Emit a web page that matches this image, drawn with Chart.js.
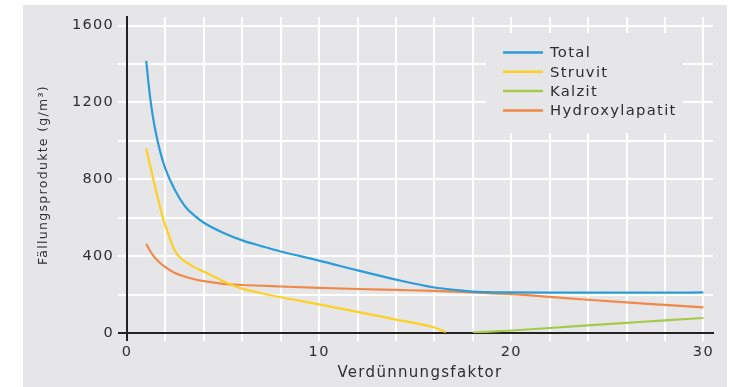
<!DOCTYPE html>
<html>
<head>
<meta charset="utf-8">
<script src="https://cdn.jsdelivr.net/npm/chart.js@4/dist/chart.umd.min.js"></script>
<style>
  html, body { margin: 0; padding: 0; background: #ffffff; }
  #wrap { position: relative; width: 734px; height: 387px; }
</style>
</head>
<body>
<div id="wrap"><canvas id="c" width="734" height="387"></canvas></div>
<script>
// ---- data ----
const seriesLabels = ['Total', 'Struvit', 'Kalzit', 'Hydroxylapatit'];
const seriesColors = ['#2b9cd8', '#fdd023', '#a6c94a', '#f0884a'];

const totalX = [1, 1.2, 1.35, 1.5, 1.75, 2, 2.5, 3, 3.5, 4, 5, 6, 7, 8, 10, 12, 14, 16, 17, 18, 19, 20, 22, 25, 28, 30];
const totalY = [1416, 1229, 1125, 1042, 935, 855, 743, 662, 612, 574, 522, 482, 452, 424, 377, 326, 278, 237, 225, 215, 212, 211, 210, 210, 210, 211];

const struvitX = [1, 1.38, 1.9, 2.2, 2.4, 2.6, 2.8, 3.1, 3.5, 4.1, 5, 6, 7, 8, 10, 12, 14, 16, 16.6];
const struvitY = [960, 796, 589, 502, 447, 412, 389, 367, 343, 315, 270, 231, 207, 186, 149, 110, 70, 29, 5];

const kalzitX = [18, 20, 22, 24, 26, 28, 30];
const kalzitY = [2, 13, 26, 40, 53, 66, 78];

const hydroxyX = [1, 1.2, 1.35, 1.5, 1.75, 2, 2.5, 3, 3.5, 4, 5, 6, 8, 10, 12, 14, 16, 18, 20, 22, 24, 26, 28, 30];
const hydroxyY = [464, 428, 405, 386, 362, 343, 312, 294, 280, 270, 256, 250, 242, 235, 229, 224, 219, 211, 202, 188, 173, 159, 146, 133];

const xTickStep = 2;
const xLabelEvery = 10;
const yTickStep = 200;
const yLabelEvery = 400;
const xTitle = 'Verdünnungsfaktor';
const yTitle = 'Fällungsprodukte (g/m³)';

const toPoints = (xs, ys) => xs.map((x, i) => ({ x: x, y: ys[i] }));
const seriesData = [
  toPoints(totalX, totalY),
  toPoints(struvitX, struvitY),
  toPoints(kalzitX, kalzitY),
  toPoints(hydroxyX, hydroxyY)
];

// ---- styling ----
const FONT = "'DejaVu Sans', 'Liberation Sans', Arial, sans-serif";
const TEXT = '#2e2e2e';
const PANEL = '#e6e6e8';
const AXIS = '#222222';
const SPACING = '1.3px';

Chart.defaults.font.family = FONT;
Chart.defaults.color = TEXT;

const panelPlugin = {
  id: 'panel',
  beforeDraw(chart) {
    const ctx = chart.ctx;
    ctx.letterSpacing = SPACING;
    ctx.save();
    ctx.fillStyle = PANEL;
    ctx.fillRect(23, 5, 704, 382);
    ctx.restore();
  }
};

const legendPlugin = {
  id: 'insideLegend',
  afterDatasetsDraw(chart) {
    const ctx = chart.ctx;
    ctx.save();
    ctx.fillStyle = PANEL;
    ctx.fillRect(486, 33, 197, 100);
    ctx.font = '14.8px ' + FONT;
    ctx.textBaseline = 'middle';
    ctx.textAlign = 'left';
    chart.data.datasets.forEach((ds, i) => {
      const y = 52.5 + i * 19.3;
      ctx.strokeStyle = ds.borderColor;
      ctx.lineWidth = 2.5;
      ctx.beginPath();
      ctx.moveTo(503, y);
      ctx.lineTo(543, y);
      ctx.stroke();
      ctx.fillStyle = TEXT;
      ctx.fillText(ds.label, 550, y + 1);
    });
    ctx.restore();
  }
};

const tickColorFn = (c) => (c.tick && c.tick.value === 0) ? AXIS : '#ffffff';

new Chart(document.getElementById('c'), {
  type: 'line',
  data: {
    datasets: seriesLabels.map((lab, i) => ({
      label: lab,
      data: seriesData[i],
      borderColor: seriesColors[i],
      backgroundColor: seriesColors[i],
      borderWidth: 2.2,
      pointRadius: 0,
      fill: false,
      cubicInterpolationMode: 'monotone'
    }))
  },
  options: {
    responsive: false,
    animation: false,
    devicePixelRatio: 1,
    layout: { padding: { left: 0, top: 17, right: 21, bottom: 0 } },
    plugins: {
      legend: { display: false },
      tooltip: { enabled: false }
    },
    scales: {
      x: {
        type: 'linear',
        min: 0,
        max: 30.5,
        afterFit(scale) { scale.height = 54; },
        ticks: {
          stepSize: xTickStep,
          includeBounds: false,
          autoSkip: false,
          maxRotation: 0,
          padding: 3,
          color: TEXT,
          font: { size: 14.5 },
          callback: (v) => (v % xLabelEvery === 0 ? String(v) : '')
        },
        grid: { color: '#ffffff', lineWidth: 2, tickLength: 8, tickColor: tickColorFn },
        border: { color: AXIS, width: 2 },
        title: {
          display: true,
          text: xTitle,
          color: TEXT,
          font: { size: 15 },
          padding: { top: 0, bottom: 5 }
        }
      },
      y: {
        min: 0,
        max: 1645,
        afterFit(scale) { scale.width = 127; },
        ticks: {
          stepSize: yTickStep,
          includeBounds: false,
          autoSkip: false,
          padding: 4,
          color: TEXT,
          font: { size: 14.5 },
          callback: (v) => (v % yLabelEvery === 0 ? String(v) : '')
        },
        grid: { color: '#ffffff', lineWidth: 2, tickLength: 9, tickColor: tickColorFn },
        border: { color: AXIS, width: 2 },
        title: {
          display: true,
          text: yTitle,
          color: TEXT,
          font: { size: 12.5 },
          padding: { top: 36, bottom: 0 }
        }
      }
    }
  },
  plugins: [panelPlugin, legendPlugin]
});
</script>
</body>
</html>
